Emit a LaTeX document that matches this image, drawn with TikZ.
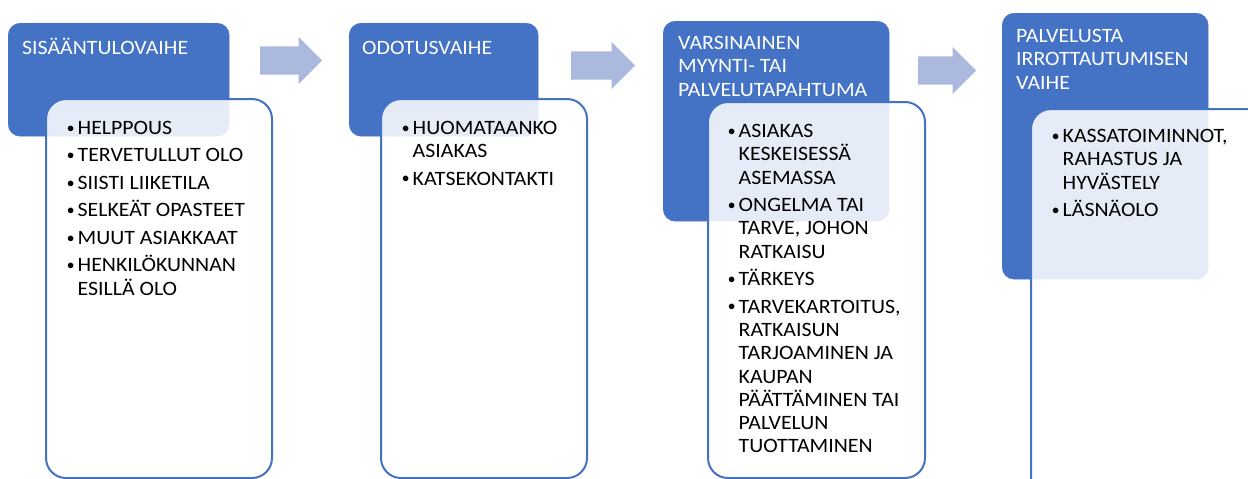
\documentclass[tikz,border=0pt]{standalone}
\usepackage{fontspec}
\setmainfont{Carlito}[FakeStretch=1.07]
\usepackage{tikz}
\usetikzlibrary{shapes.arrows, positioning, calc}
\definecolor{phaseblue}{RGB}{68,114,196}
\definecolor{flowblue}{RGB}{172,185,222}
\newcommand{\bul}{\makebox[10.5pt][l]{\raisebox{2.3pt}{\fontsize{15}{15}\selectfont$\bullet$}}}
\newcommand{\cont}{\hspace*{10.5pt}}

\begin{document}
\begin{tikzpicture}[
    x=1pt, y=-1pt,
    phase/.style={draw=phaseblue,fill=phaseblue,rounded corners=12pt,
      anchor=north west,inner sep=0pt},
    items/.style={draw=phaseblue,line width=2pt,fill=white,fill opacity=0.87,
      rounded corners=20pt,anchor=north west,inner sep=0pt},
    txt/.style={anchor=north west,align=left,inner sep=0pt,
      font=\fontsize{20.4}{23.3}\selectfont,
      execute at begin node={\rule{0pt}{18pt}}},
    title/.style={txt,text=white},
    list/.style={txt},
    flow/.style={single arrow,fill=flowblue,inner xsep=0pt,inner ysep=14pt,
      minimum width=47pt,single arrow head extend=9.5pt,anchor=tail}
  ]
  \useasboundingbox (0,0) rectangle (1248,479);
  \clip (0,0) rectangle (1248,479);

  \node[phase,minimum width=221pt,minimum height=113pt] (hdrA) at (8,23) {};
  \node[phase,minimum width=189pt,minimum height=113pt] (hdrB) at (349,23) {};
  \node[phase,minimum width=226pt,minimum height=200pt] (hdrC) at (663,21) {};
  \node[phase,minimum width=206pt,minimum height=266pt] (hdrD) at (1002,13) {};

  \node[items,minimum width=226pt,minimum height=379pt] (lstA) at (45,98) {};
  \node[items,minimum width=206pt,minimum height=379pt] (lstB) at (380,98) {};
  \node[items,minimum width=217pt,minimum height=376pt] (lstC) at (707,101) {};
  \node[items,minimum width=245pt,minimum height=392pt] (lstD) at (1030,108) {};

  \node[flow,minimum height=62pt] (arrAB) at (260,60.5) {};
  \node[flow,minimum height=64pt] (arrBC) at (571,65.5) {};
  \node[flow,minimum height=58pt] (arrCD) at (918,70.5) {};

  \node[title] (tA) at ($(hdrA.north west)+(14,13)$) {SISÄÄNTULOVAIHE};
  \node[title] (tB) at ($(hdrB.north west)+(13,13)$) {ODOTUSVAIHE};
  \node[title] (tC) at ($(hdrC.north west)+(15,15)$)
    {VARSINAINEN\\MYYNTI- TAI\\PALVELUTAPAHTUMA};
  \node[title] (tD) at ($(hdrD.north west)+(14,16)$)
    {PALVELUSTA\\IRROTTAUTUMISEN\\VAIHE};

  \node[list] (iA) at (67,121) {\bul HELPPOUS\\[4.2pt]
    \bul TERVETULLUT OLO\\[4.2pt]
    \bul SIISTI LIIKETILA\\[4.2pt]
    \bul SELKEÄT OPASTEET\\[4.2pt]
    \bul MUUT ASIAKKAAT\\[4.2pt]
    \bul HENKILÖKUNNAN\\
    \cont ESILLÄ OLO};
  \node[list] (iB) at (402,121) {\bul HUOMATAANKO\\
    \cont ASIAKAS\\[4.2pt]
    \bul KATSEKONTAKTI};
  \node[list] (iC) at (728,124) {\bul ASIAKAS\\
    \cont KESKEISESSÄ\\
    \cont ASEMASSA\\[4.2pt]
    \bul ONGELMA TAI\\
    \cont TARVE, JOHON\\
    \cont RATKAISU\\[4.2pt]
    \bul TÄRKEYS\\[4.2pt]
    \bul TARVEKARTOITUS,\\
    \cont RATKAISUN\\
    \cont TARJOAMINEN JA\\
    \cont KAUPAN\\
    \cont PÄÄTTÄMINEN TAI\\
    \cont PALVELUN\\
    \cont TUOTTAMINEN};
  \node[list] (iD) at (1052,129) {\bul KASSATOIMINNOT,\\
    \cont RAHASTUS JA\\
    \cont HYVÄSTELY\\[4.2pt]
    \bul LÄSNÄOLO};
\end{tikzpicture}
\end{document}
